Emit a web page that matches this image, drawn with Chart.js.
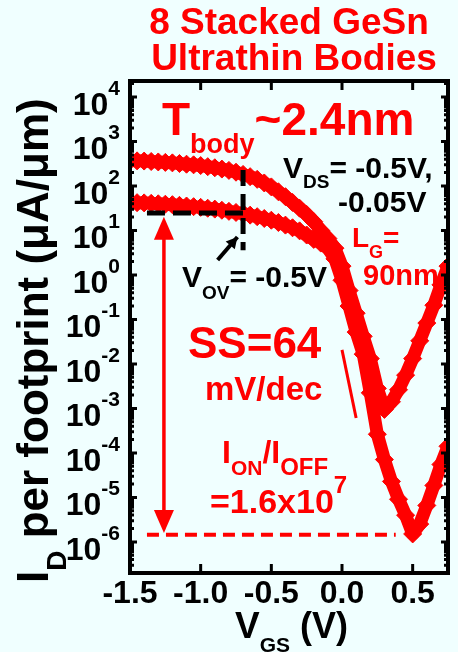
<!DOCTYPE html>
<html>
<head>
<meta charset="utf-8">
<script src="https://cdn.jsdelivr.net/npm/chart.js@4.4.1/dist/chart.umd.min.js"></script>
<style>
  html, body { margin: 0; padding: 0; background: #f0ffff; }
  #wrap { width: 458px; height: 652px; }
</style>
</head>
<body>
<div id="wrap"><canvas id="chart" width="458" height="652"></canvas></div>
<script>
// V_GS (V)
const vgs = [
  -1.5, -1.45, -1.4, -1.35, -1.3, -1.25, -1.2, -1.15, -1.1, -1.05,
  -1.0, -0.95, -0.9, -0.85, -0.8, -0.75, -0.7, -0.65, -0.6, -0.55,
  -0.5, -0.45, -0.4, -0.35, -0.3, -0.25, -0.2, -0.15, -0.1, -0.05,
  0.0, 0.05, 0.1, 0.15, 0.2, 0.25, 0.3, 0.35, 0.4, 0.45,
  0.5, 0.55, 0.6, 0.65, 0.7, 0.75
];
// I_D per footprint (uA/um), V_DS = -0.5 V
const idVds05 = [
  372, 367, 363, 355, 347, 339, 331, 320, 309, 299,
  288, 272, 257, 240, 224, 204, 182, 162, 141, 117,
  95.5, 74.1, 57.5, 42.7, 31.6, 22.9, 15.8, 10.0, 6.6, 4.0,
  1.58, 0.447, 0.138, 0.0417, 0.0132, 2.82e-3, 9.5e-4, 1.41e-3, 2.63e-3, 5.6e-3,
  0.0132, 0.0331, 0.083, 0.209, 0.60, 1.58
];
// I_D per footprint (uA/um), V_DS = -0.05 V
const idVds005 = [
  42.7, 42.2, 41.7, 40.7, 39.8, 38.9, 38.0, 36.7, 35.5, 34.3,
  33.1, 31.6, 30.2, 28.5, 26.9, 25.4, 24.0, 22.1, 20.4, 18.6,
  17.0, 15.1, 13.2, 11.5, 9.8, 7.9, 6.3, 5.2, 4.0, 2.3,
  0.76, 0.20, 0.052, 0.0166, 2.24e-3, 2.63e-4, 7.1e-5, 2.29e-5, 9.1e-6, 3.98e-6,
  1.51e-6, 2.51e-6, 6.6e-6, 1.86e-5, 5.5e-5, 1.41e-4
];

const xTicks = [-1.5, -1.0, -0.5, 0.0, 0.5];
const yDecades = [-6, -5, -4, -3, -2, -1, 0, 1, 2, 3, 4];

// annotation anchors, in data units
const ionLevel = 24.7;     // black dashed: I_ON at V_OV = -0.5 V
const vAtOv = -0.70;
const ioffLevel = 1.45e-6; // red dashed: I_OFF
const arrowX = -1.26;
const ssLine = [[0.0, 0.0207], [0.1, 6.1e-4]];

const RED = '#ff0000';
const FONT = '"Liberation Sans", Arial, sans-serif';
const f = (sz) => 'bold ' + sz + 'px ' + FONT;

// draw text made of pieces [text, size, baselineShift]
function rich(ctx, x, y, parts, color) {
  ctx.fillStyle = color;
  ctx.textAlign = 'left';
  ctx.textBaseline = 'alphabetic';
  let cx = x;
  parts.forEach((p) => {
    ctx.font = f(p[1]);
    ctx.fillText(p[0], cx, y + (p[2] || 0));
    cx += ctx.measureText(p[0]).width;
  });
  return cx - x;
}
function richWidth(ctx, parts) {
  let w = 0;
  parts.forEach((p) => { ctx.font = f(p[1]); w += ctx.measureText(p[0]).width; });
  return w;
}
function seg(ctx, a, b, color, w, dash) {
  ctx.save();
  ctx.strokeStyle = color;
  ctx.lineWidth = w;
  ctx.setLineDash(dash || []);
  ctx.beginPath();
  ctx.moveTo(a[0], a[1]);
  ctx.lineTo(b[0], b[1]);
  ctx.stroke();
  ctx.restore();
}
function head(ctx, tip, from, len, half, color) {
  const dx = tip[0] - from[0], dy = tip[1] - from[1];
  const d = Math.hypot(dx, dy), ux = dx / d, uy = dy / d;
  const bx = tip[0] - ux * len, by = tip[1] - uy * len;
  ctx.fillStyle = color;
  ctx.beginPath();
  ctx.moveTo(tip[0], tip[1]);
  ctx.lineTo(bx - uy * half, by + ux * half);
  ctx.lineTo(bx + uy * half, by - ux * half);
  ctx.closePath();
  ctx.fill();
}

const decor = {
  id: 'decor',
  afterDatasetsDraw(chart) {
    const ctx = chart.ctx;
    const a = chart.chartArea;
    const xs = chart.scales.x, ys = chart.scales.y;
    const P = (x, y) => [xs.getPixelForValue(x), ys.getPixelForValue(y)];

    // frame
    ctx.save();
    ctx.strokeStyle = '#000';
    ctx.lineWidth = 4;
    ctx.strokeRect(a.left, a.top, a.right - a.left, a.bottom - a.top);

    // ticks (inward)
    ctx.lineWidth = 3;
    ctx.beginPath();
    for (let e = -7; e <= 4; e++) {
      for (let k = 1; k <= 9; k++) {
        const v = k * Math.pow(10, e);
        const py = ys.getPixelForValue(v);
        if (py < a.top + 2 || py > a.bottom - 2) continue;
        const len = k === 1 ? 7 : 4;
        ctx.moveTo(a.left, py); ctx.lineTo(a.left + len, py);
        ctx.moveTo(a.right, py); ctx.lineTo(a.right - len, py);
      }
    }
    xTicks.forEach((t) => {
      const px = xs.getPixelForValue(t);
      if (px < a.left + 3) return;
      ctx.moveTo(px, a.bottom); ctx.lineTo(px, a.bottom - 9);
      ctx.moveTo(px, a.top); ctx.lineTo(px, a.top + 9);
    });
    ctx.stroke();

    // x tick labels
    ctx.fillStyle = '#000';
    ctx.font = f(32);
    ctx.textAlign = 'center';
    ctx.textBaseline = 'alphabetic';
    xTicks.forEach((t) => {
      ctx.fillText(t.toFixed(1), xs.getPixelForValue(t), 603);
    });

    // y tick labels 10^n
    yDecades.forEach((e) => {
      const py = ys.getPixelForValue(Math.pow(10, e));
      const parts = [['10', 32, 0], [String(e), 21, -20]];
      const w = richWidth(ctx, parts);
      rich(ctx, 120 - w, py + 18, parts, '#000');
    });

    // axis titles
    rich(ctx, 235, 638, [['V', 37], ['GS', 21, 14], [' (V)', 36]], '#000');
    ctx.save();
    ctx.translate(48, 583);
    ctx.rotate(-Math.PI / 2);
    rich(ctx, 0, 0, [['I', 44], ['D', 28, 18], [' per footprint (\u03bcA/\u03bcm)', 44]], '#000');
    ctx.restore();

    // black dashed marker for I_ON
    seg(ctx, P(-1.38, ionLevel), P(vAtOv, ionLevel), '#000', 5, [18, 8]);
    seg(ctx, P(vAtOv, 229), P(vAtOv, 3.6), '#000', 5, [16, 8]);
    // black arrow to the corner
    const bt = P(-0.74, 7.15), bf = P(-0.88, 2.17);
    seg(ctx, bf, bt, '#000', 4);
    head(ctx, bt, bf, 11, 6, '#000');

    // red dashed I_OFF line and double arrow
    seg(ctx, P(-1.38, ioffLevel), P(0.38, ioffLevel), RED, 4, [12, 7]);
    const rt = P(arrowX, ionLevel * 0.82), rb = P(arrowX, ioffLevel * 1.1);
    seg(ctx, [rt[0], rt[1] + 15], [rb[0], rb[1] - 15], RED, 3.5);
    head(ctx, rt, rb, 23, 10, RED);
    head(ctx, rb, rt, 23, 10, RED);

    // SS slope line
    seg(ctx, P(ssLine[0][0], ssLine[0][1]), P(ssLine[1][0], ssLine[1][1]), RED, 3);

    // texts
    ctx.fillStyle = RED;
    ctx.font = f(37);
    ctx.textAlign = 'center';
    ctx.fillText('8 Stacked GeSn', 289, 34);
    ctx.fillText('Ultrathin Bodies', 294, 70);

    rich(ctx, 162, 135, [['T', 46], ['body', 27, 18], ['~2.4nm', 46]], RED);
    rich(ctx, 283, 178, [['V', 30], ['DS', 19, 10], ['= -0.5V,', 30]], '#000');
    rich(ctx, 338, 212, [['-0.05V', 30]], '#000');
    rich(ctx, 352, 247, [['L', 28], ['G', 18, 11], ['=', 28]], RED);
    rich(ctx, 363, 285, [['90nm', 29]], RED);
    rich(ctx, 182, 287, [['V', 30], ['OV', 19, 12], ['= -0.5V', 30]], '#000');
    rich(ctx, 188, 358, [['SS=64', 44]], RED);
    rich(ctx, 205, 400, [['mV/dec', 33]], RED);
    rich(ctx, 222, 463, [['I', 32], ['ON', 21, 12], ['/I', 32], ['OFF', 24, 12]], RED);
    rich(ctx, 210, 513, [['=1.6x10', 34], ['7', 24, -20]], RED);
    ctx.restore();
  }
};

const mk = (ys) => vgs.map((v, i) => ({ x: v, y: ys[i] }));
const markStyle = {
  showLine: true,
  borderColor: RED,
  borderWidth: 13,
  borderJoinStyle: 'round',
  tension: 0,
  pointStyle: 'rectRot',
  pointRadius: 9,
  pointHoverRadius: 9,
  pointBackgroundColor: RED,
  pointBorderColor: RED,
  pointBorderWidth: 1,
  clip: 0
};

new Chart(document.getElementById('chart'), {
  type: 'scatter',
  data: {
    datasets: [
      Object.assign({ label: 'VDS = -0.5 V', data: mk(idVds05) }, markStyle),
      Object.assign({ label: 'VDS = -0.05 V', data: mk(idVds005) }, markStyle)
    ]
  },
  options: {
    responsive: false,
    devicePixelRatio: 1,
    animation: false,
    layout: { padding: { left: 130, top: 81, right: 3, bottom: 79 } },
    plugins: { legend: { display: false }, tooltip: { enabled: false } },
    scales: {
      x: { type: 'linear', min: -1.5, max: 0.75, display: false },
      y: { type: 'logarithmic', min: 2e-7, max: 2.29e4, display: false }
    }
  },
  plugins: [decor]
});
</script>
</body>
</html>
